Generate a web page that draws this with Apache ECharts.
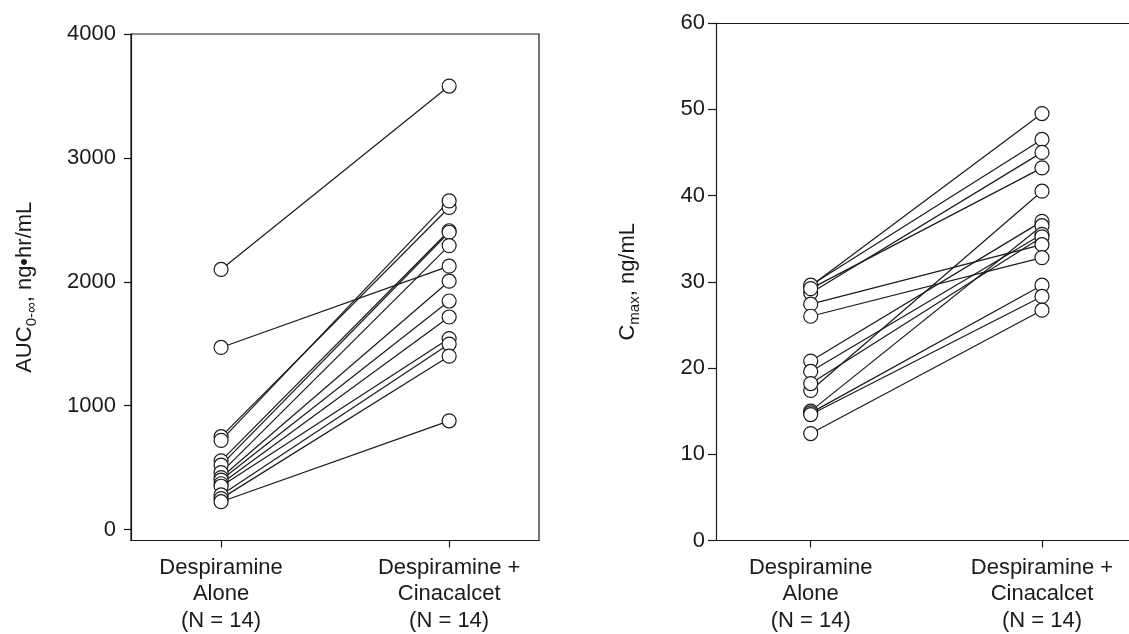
<!DOCTYPE html>
<html>
<head>
<meta charset="utf-8">
<script src="https://cdn.jsdelivr.net/npm/echarts@6/dist/echarts.min.js"></script>
<style>
html,body{margin:0;padding:0;background:#fff;}
#c{width:1129px;height:634px;}
</style>
</head>
<body>
<div id="c"></div>
<script>
const categories = ['Despiramine\nAlone\n(N = 14)', 'Despiramine +\nCinacalcet\n(N = 14)'];
const aucAlone  = [2100, 1470, 750, 720, 555, 520, 460, 420, 400, 370, 350, 280, 250, 225];
const aucCombo  = [3580, 2126, 2600, 2653, 2412, 2400, 2292, 2005, 1845, 1716, 1542, 1497, 1400, 878];
const cmaxAlone = [29.5, 29.6, 28.7, 29.2, 17.4, 20.8, 15.0, 19.6, 18.2, 27.4, 26.0, 14.8, 14.6, 12.4];
const cmaxCombo = [49.5, 46.5, 45.0, 43.2, 40.5, 37.0, 36.5, 35.5, 35.2, 34.3, 32.8, 29.6, 28.3, 26.7];
const aucTicks  = [0, 1000, 2000, 3000, 4000];
const cmaxTicks = [0, 10, 20, 30, 40, 50, 60];

const FONT = 'Liberation Sans';
const INK = '#1a1a1a';

function pairSeries(alone, combo, idx) {
  const out = [];
  for (let i = 0; i < alone.length; i++) {
    out.push({
      type: 'line', xAxisIndex: idx, yAxisIndex: idx,
      data: [[0, alone[i]], [1, combo[i]]],
      symbol: 'none', silent: true, animation: false, z: 2,
      lineStyle: { color: INK, width: 1.2 }
    });
  }
  const pts = [];
  for (let i = 0; i < alone.length; i++) { pts.push([0, alone[i]]); pts.push([1, combo[i]]); }
  out.push({
    type: 'scatter', xAxisIndex: idx, yAxisIndex: idx, data: pts,
    symbol: 'circle', symbolSize: 14, animation: false, z: 3, silent: true,
    itemStyle: { color: '#fff', borderColor: INK, borderWidth: 1.2, opacity: 1 }
  });
  return out;
}

function xAxis(idx, min, max) {
  return {
    type: 'value', gridIndex: idx, min: min, max: max,
    axisLine: { show: true, onZero: false, lineStyle: { color: INK, width: 1.2 } },
    axisTick: { show: true, customValues: [0, 1], length: 7, lineStyle: { color: INK, width: 1.2 } },
    axisLabel: {
      customValues: [0, 1], margin: 14,
      formatter: v => categories[Math.round(v)],
      fontFamily: FONT, fontSize: 22, color: INK, lineHeight: 26.5, align: 'center'
    },
    splitLine: { show: false }
  };
}

const nameRich = {
  a: { fontFamily: FONT, fontSize: 22, color: INK, lineHeight: 28, verticalAlign: 'middle' },
  s: { fontFamily: FONT, fontSize: 15, color: INK, lineHeight: 14, verticalAlign: 'bottom' }
};

const plain = v => String(v);

const option = {
  animation: false,
  backgroundColor: '#fff',
  grid: [
    { left: 131, top: 34, width: 408, height: 509, show: true, borderColor: INK, borderWidth: 1.2, containLabel: false },
    { left: 716, top: 23, right: 0, height: 519, show: false, containLabel: false }
  ],
  xAxis: [
    xAxis(0, -0.395, 1.394),
    xAxis(1, -0.4094, 1.3762),
    {
      type: 'value', gridIndex: 1, position: 'top', min: 0, max: 1,
      axisLine: { show: true, onZero: false, lineStyle: { color: INK, width: 1.2 } },
      axisTick: { show: false }, axisLabel: { show: false }, splitLine: { show: false }
    }
  ],
  yAxis: [
    {
      type: 'value', gridIndex: 0, min: -88, max: 4000,
      name: '{a|AUC}{s|0-∞}{a|, ng•hr/mL}', nameLocation: 'middle', nameGap: 92,
      nameTextStyle: { rich: nameRich },
      axisLine: { show: true, onZero: false, lineStyle: { color: INK, width: 1.2 } },
      axisTick: { show: true, customValues: aucTicks, length: 7, lineStyle: { color: INK, width: 1.2 } },
      axisLabel: { customValues: aucTicks, formatter: plain, margin: 15, fontFamily: FONT, fontSize: 22, color: INK },
      splitLine: { show: false }
    },
    {
      type: 'value', gridIndex: 1, min: 0, max: 60,
      name: '{a|C}{s|max}{a|, ng/mL}', nameLocation: 'middle', nameGap: 74,
      nameTextStyle: { rich: nameRich },
      axisLine: { show: true, onZero: false, lineStyle: { color: INK, width: 1.2 } },
      axisTick: { show: true, customValues: cmaxTicks, length: 8, lineStyle: { color: INK, width: 1.2 } },
      axisLabel: { customValues: cmaxTicks, formatter: plain, margin: 11, fontFamily: FONT, fontSize: 22, color: INK },
      splitLine: { show: false }
    }
  ],
  series: pairSeries(aucAlone, aucCombo, 0).concat(pairSeries(cmaxAlone, cmaxCombo, 1))
};

const chart = echarts.init(document.getElementById('c'), null, { renderer: 'canvas' });
chart.setOption(option);
</script>
</body>
</html>
